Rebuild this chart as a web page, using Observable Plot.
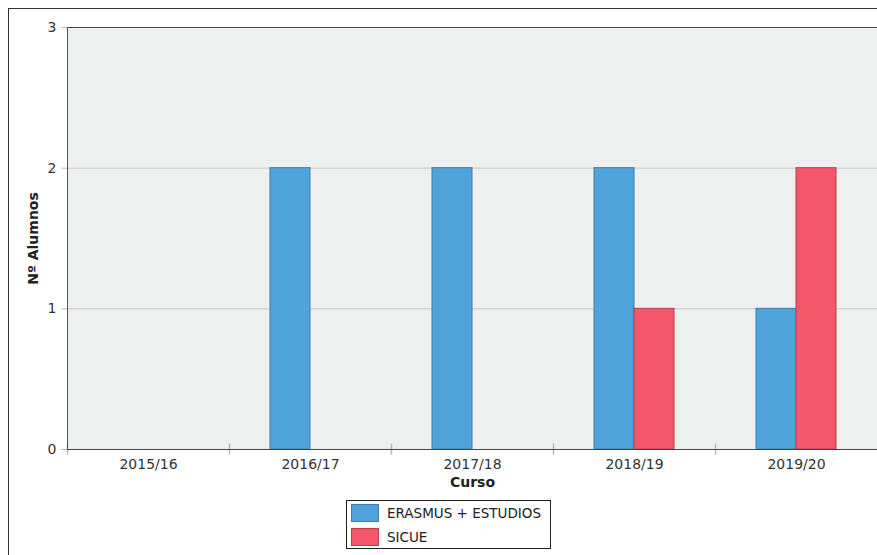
<!DOCTYPE html>
<html><head><meta charset="utf-8">
<script src="https://cdn.jsdelivr.net/npm/d3@7"></script>
<script src="https://cdn.jsdelivr.net/npm/@observablehq/plot@0.6"></script>
<style>
html,body{margin:0;padding:0;background:#fff;overflow:hidden;width:877px;height:555px;}
#frame{position:absolute;left:8px;top:8px;width:1000px;height:700px;border-left:1px solid #333;border-top:1px solid #333;}
#chart{position:absolute;left:0;top:0;width:900px;}
#chart svg{max-width:none !important;}
#legend{position:absolute;left:346px;top:500px;width:203px;height:47px;border:1px solid #222;background:#fff;font-family:"DejaVu Sans";font-size:13.5px;color:#222;}
.item{position:absolute;left:4px;height:18px;line-height:18px;white-space:nowrap;}
.sw{position:absolute;left:0;top:0;width:26px;height:16px;border:1px solid #333;}
.lab{position:absolute;left:36px;top:0;}
</style>
</head><body>
<div id="frame"></div>
<div id="chart"></div>
<div id="legend"></div>
<script>
const cursos = ["2015/16", "2016/17", "2017/18", "2018/19", "2019/20"];
const series = ["ERASMUS + ESTUDIOS", "SICUE"];
const erasmus = [0, 2, 2, 2, 1];
const sicue = [0, 0, 0, 1, 2];
const yTicks = [0, 1, 2, 3];

const colors = ["#4fa3da", "#f4566b"];
const strokes = ["#3f7fac", "#b5404f"];
const seriesValues = [erasmus, sicue];

const rows = cursos.flatMap((c, i) => series.map((s, k) => ({curso: c, serie: s, valor: seriesValues[k][i]})));

const vline = (a, b) => ({draw(ctx) { ctx.moveTo(0, a); ctx.lineTo(0, b); }});

const plot = Plot.plot({
  width: 900, height: 495,
  marginLeft: 66, marginRight: 22, marginTop: 27, marginBottom: 46,
  style: {fontFamily: "DejaVu Sans", fontSize: "14px", background: "transparent", color: "#333", overflow: "visible", maxWidth: "none"},
  fx: {domain: cursos, padding: 0},
  x: {domain: series, paddingInner: 0, paddingOuter: 0.98, axis: null},
  y: {domain: [0, 3], axis: null},
  marks: [
    Plot.frame({fill: "#eeefef", insetLeft: -0.6, insetRight: -0.6}),
    Plot.gridY(yTicks, {stroke: "#c8c8c8", strokeOpacity: 1}),
    ...series.map((s, k) => Plot.barY(rows.filter(d => d.serie === s), {
      fx: "curso", x: "serie", y: "valor", fill: colors[k], stroke: d => d.valor > 0 ? strokes[k] : "none", strokeWidth: 1
    })),
    Plot.dot([0], {frameAnchor: "bottom-left", symbol: vline(-6, 5), stroke: "#b5b5b5", fill: "none"}),
    Plot.frame({anchor: "top", stroke: "#444"}),
    Plot.frame({anchor: "bottom", stroke: "#444"}),
    Plot.frame({anchor: "left", stroke: "#555", facetAnchor: "left"}),
    Plot.axisY(yTicks, {tickSize: 6, tickPadding: 5, stroke: "#bbb", color: "#333", label: null, tickFormat: d => String(d)}),
    Plot.axisFx({anchor: "bottom", tickSize: 0, tickPadding: 10, label: null, color: "#333", letterSpacing: "0.6px"}),
    Plot.text(["Nº Alumnos"], {text: d => d, frameAnchor: "left", textAnchor: "middle", dx: -34, rotate: -90, fontWeight: "bold", fontSize: 14, fill: "#222", facetAnchor: "left"}),
    Plot.text(["Curso"], {text: d => d, fx: () => cursos[2], frameAnchor: "bottom", textAnchor: "middle", dy: 37, fontWeight: "bold", fontSize: 14, fill: "#222"})
  ]
});
document.getElementById("chart").appendChild(plot);

const legend = document.getElementById("legend");
series.forEach((s, k) => {
  const item = document.createElement("div");
  item.className = "item";
  item.style.top = (3 + k * 24) + "px";
  item.innerHTML = `<div class="sw" style="background:${colors[k]};border-color:${strokes[k]}"></div><div class="lab">${s}</div>`;
  legend.appendChild(item);
});
</script>
</body></html>
